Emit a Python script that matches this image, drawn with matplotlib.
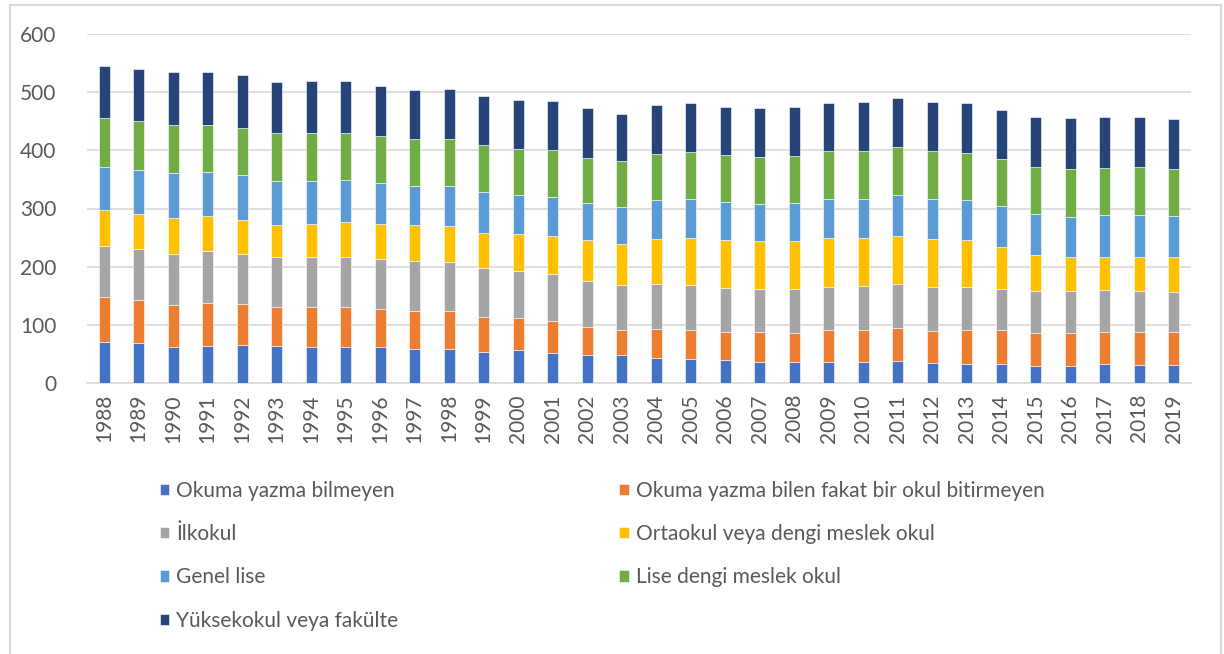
import numpy as np
import matplotlib.pyplot as plt
from matplotlib.lines import Line2D

years = [str(y) for y in range(1988, 2020)]

okuma_yazma_bilmeyen = [71, 68, 62, 64, 65, 63, 62, 62, 62, 59, 58, 54, 57, 52, 48, 48,
                        43, 41, 39, 36, 36, 36, 36, 38, 34, 33, 33, 30, 29, 33, 31, 31]
okul_bitirmeyen = [76, 75, 72, 74, 70, 67, 68, 68, 65, 64, 65, 60, 55, 54, 49, 43,
                   50, 50, 49, 51, 50, 55, 55, 57, 56, 58, 58, 56, 57, 55, 57, 57]
ilkokul = [89, 88, 88, 89, 87, 86, 87, 86, 86, 86, 85, 83, 81, 81, 79, 78,
           77, 77, 76, 74, 75, 74, 76, 76, 75, 74, 71, 72, 72, 72, 70, 69]
ortaokul = [61, 60, 62, 60, 59, 56, 57, 60, 60, 62, 62, 61, 63, 66, 69, 70,
            77, 82, 82, 83, 83, 84, 83, 82, 83, 80, 71, 62, 58, 57, 59, 60]
genel_lise = [75, 75, 77, 75, 77, 75, 74, 73, 70, 67, 69, 71, 67, 67, 65, 63,
              67, 66, 66, 64, 66, 68, 67, 70, 69, 70, 71, 71, 70, 71, 72, 70]
meslek_lise = [84, 84, 82, 81, 81, 82, 82, 81, 82, 81, 80, 80, 80, 80, 77, 79,
               80, 81, 80, 81, 81, 82, 82, 82, 81, 81, 81, 81, 82, 82, 82, 81]
yuksekokul = [89, 90, 91, 91, 90, 89, 90, 89, 86, 84, 86, 85, 83, 84, 85, 82,
              84, 84, 82, 83, 83, 83, 84, 85, 85, 86, 85, 86, 87, 87, 86, 86]

series = [okuma_yazma_bilmeyen, okul_bitirmeyen, ilkokul, ortaokul,
          genel_lise, meslek_lise, yuksekokul]
labels = ["Okuma yazma bilmeyen", "Okuma yazma bilen fakat bir okul bitirmeyen",
          "İlkokul", "Ortaokul veya dengi meslek okul",
          "Genel lise", "Lise dengi meslek okul", "Yüksekokul veya fakülte"]
colors = ["#4472C4", "#ED7D31", "#A5A5A5", "#FFC000", "#5B9BD5", "#70AD47", "#264478"]

plt.rcParams['font.family'] = ['Lato', 'DejaVu Sans']
txt = "#595959"

fig = plt.figure(figsize=(12.24, 6.54), dpi=100)
ax = fig.add_axes([87 / 1224, 1 - 383 / 654, 1104 / 1224, 349 / 654])

x = np.arange(len(years))
bottom = np.zeros(len(years))
handles = []
for vals, lab, col in zip(series, labels, colors):
    bars = ax.bar(x, vals, 0.31, bottom=bottom, color=col, label=lab,
                  edgecolor="white", linewidth=0.4, zorder=3)
    bottom += np.array(vals)
    handles.append(bars)

ax.set_xlim(-0.5, len(years) - 0.5)
ax.set_ylim(0, 600)
ax.set_yticks(range(0, 601, 100))
ax.set_xticks(x)
ax.set_xticklabels(years, rotation=90)
ax.grid(axis="y", color="#d9d9d9", linewidth=1.2, zorder=0)
for s in ["top", "right", "left"]:
    ax.spines[s].set_visible(False)
ax.spines["bottom"].set_color("#d9d9d9")
ax.spines["bottom"].set_linewidth(1.2)
ax.tick_params(length=0, labelsize=15, colors=txt, pad=8)
ax.tick_params(axis="y", pad=22)

# legend is filled row by row in the original, so reorder for column-wise fill
order = [0, 2, 4, 6, 1, 3, 5]
fig.legend(handles=[handles[i] for i in order], labels=[labels[i] for i in order],
           loc="upper left", bbox_to_anchor=(141 / 1224, 1 - 462 / 654), ncol=2,
           frameon=False, fontsize=15, labelcolor=txt, handlelength=0.45,
           handleheight=0.45, handletextpad=0.35, columnspacing=10.6, labelspacing=1.12)

# outer chart frame
fig.add_artist(Line2D([10 / 1224, 10 / 1224], [0, 1 - 5 / 654], color="#d9d9d9", lw=1.5))
fig.add_artist(Line2D([10 / 1224, 1221 / 1224], [1 - 5 / 654, 1 - 5 / 654], color="#d9d9d9", lw=1.5))
fig.add_artist(Line2D([1221 / 1224, 1221 / 1224], [0, 1 - 5 / 654], color="#d9d9d9", lw=1.5))

fig.savefig("out.png", dpi=100)
